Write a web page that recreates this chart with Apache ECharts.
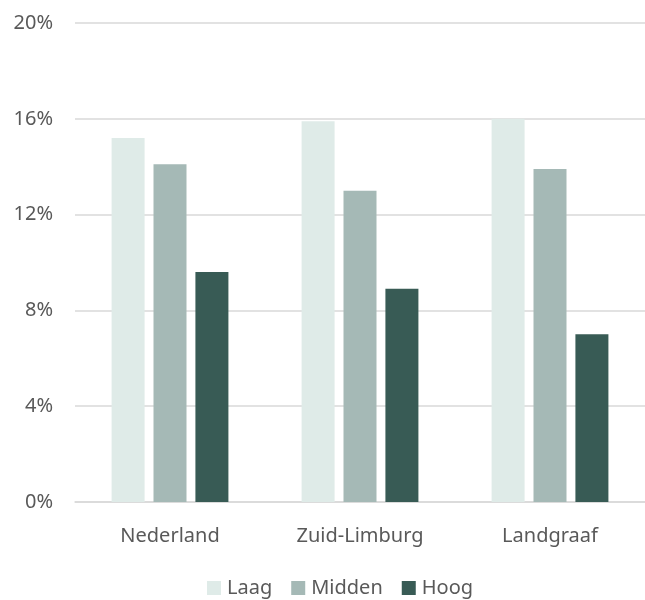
<!DOCTYPE html>
<html>
<head>
<meta charset="utf-8">
<script src="https://cdn.jsdelivr.net/npm/echarts@6/dist/echarts.min.js"></script>
<style>html,body{margin:0;padding:0;background:#fff}#c{width:645px;height:600px}</style>
</head>
<body>
<div id="c"></div>
<script>
const categories = ['Nederland', 'Zuid-Limburg', 'Landgraaf'];
const laag = [15.2, 15.9, 16.0];
const midden = [14.1, 13.0, 13.9];
const hoog = [9.6, 8.9, 7.0];
const seriesNames = ['Laag', 'Midden', 'Hoog'];
const colors = ['#dfebe8', '#a5b9b6', '#385b55'];

const chart = echarts.init(document.getElementById('c'), null, {renderer: 'canvas'});
const font = 'Noto Sans';
const mk = (name, data, color) => ({
  name, type: 'bar', data, barWidth: 33, barGap: '27%',
  itemStyle: {color}, emphasis: {disabled: true}
});
chart.setOption({
  animation: false,
  color: colors,
  grid: {left: 75, right: 0, top: 23, bottom: 98, containLabel: false},
  legend: {
    data: seriesNames, left: 202, top: 573, itemWidth: 14, itemHeight: 14,
    itemGap: 19, icon: 'rect',
    textStyle: {fontFamily: font, fontSize: 20, color: '#595959', padding: [0, 0, 0, 1]}
  },
  xAxis: {
    type: 'category', data: categories,
    axisLine: {lineStyle: {color: '#d9d9d9', width: 1.5}},
    axisTick: {show: false},
    axisLabel: {fontFamily: font, fontSize: 20, color: '#595959', margin: 24}
  },
  yAxis: {
    type: 'value', min: 0, max: 20, interval: 4,
    axisLine: {show: false}, axisTick: {show: false},
    splitLine: {lineStyle: {color: '#d9d9d9', width: 1.5}},
    axisLabel: {fontFamily: font, fontSize: 20, color: '#595959', margin: 22, formatter: '{value}%'}
  },
  series: [mk('Laag', laag, colors[0]), mk('Midden', midden, colors[1]), mk('Hoog', hoog, colors[2])]
});
</script>
</body>
</html>
